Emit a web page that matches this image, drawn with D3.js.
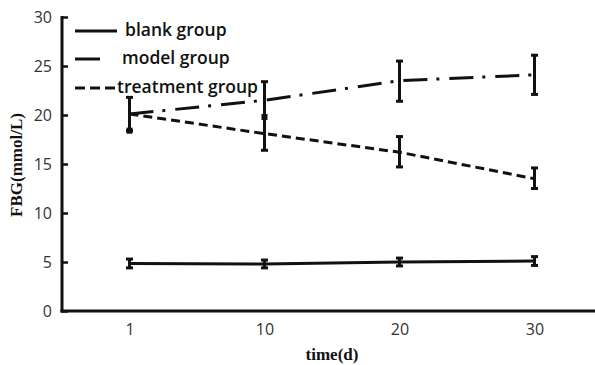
<!DOCTYPE html>
<html>
<head>
<meta charset="utf-8">
<script src="https://cdn.jsdelivr.net/npm/d3@7"></script>
<style>
  body { margin: 0; background: #fff; }
  .tick text { font-family: "Open Sans", sans-serif; font-size: 16px; fill: #333; }
  .title { font-family: "Liberation Serif", serif; font-weight: bold; fill: #111; }
  .legend text { font-family: "Open Sans", sans-serif; font-weight: 600; font-size: 17.5px; fill: #111; }
</style>
</head>
<body>
<svg id="chart" width="595" height="365"></svg>
<script>
// time points (days)
var days = ["1", "10", "20", "30"];

// blank group
var blankMean = [4.85, 4.8, 5.0, 5.1];
var blankErr  = [0.45, 0.4, 0.4, 0.45];

// model group
var modelMean = [20.1, 21.5, 23.5, 24.1];
var modelLow  = [18.4, 16.4, 21.4, 22.1];
var modelHigh = [21.8, 23.4, 25.5, 26.1];
var modelMark = [18.4, 19.8, null, null];   // square markers drawn on the first two bars

// treatment group
var treatMean = [20.1, 18.1, 16.2, 13.5];
var treatLow  = [null, null, 14.7, 12.5];
var treatHigh = [null, null, 17.8, 14.6];

var yTicks = [0, 5, 10, 15, 20, 25, 30];

var svg = d3.select("svg#chart"),
    plotLeft = 62, plotRight = 602, plotTop = 17, plotBottom = 311;

var x = d3.scalePoint().domain(days).range([plotLeft, plotRight]).padding(0.5),
    y = d3.scaleLinear().domain([0, 30]).range([plotBottom, plotTop]);

// axes
var yAxis = svg.append("g")
    .attr("transform", "translate(" + plotLeft + ",0)")
    .call(d3.axisRight(y).tickValues(yTicks).tickSize(6).tickFormat(d3.format("d")));
yAxis.select(".domain").remove();
yAxis.selectAll(".tick line").attr("stroke", "#111").attr("stroke-width", 2.5);
yAxis.selectAll(".tick text").attr("x", -10).attr("text-anchor", "end");

svg.append("line")
    .attr("x1", plotLeft).attr("x2", plotLeft)
    .attr("y1", y(30) - 1).attr("y2", plotBottom + 1.5)
    .attr("stroke", "#111").attr("stroke-width", 3);

var xAxis = svg.append("g")
    .attr("transform", "translate(0," + plotBottom + ")")
    .call(d3.axisBottom(x).tickSize(0).tickPadding(13));
xAxis.select(".domain").remove();

svg.append("line")
    .attr("x1", plotLeft - 1.5).attr("x2", 595)
    .attr("y1", plotBottom).attr("y2", plotBottom)
    .attr("stroke", "#111").attr("stroke-width", 3);

// axis titles
svg.append("text").attr("class", "title")
    .attr("transform", "translate(22,165) rotate(-90)")
    .attr("text-anchor", "middle")
    .style("font-size", "17px")
    .text("FBG(mmol/L)");

svg.append("text").attr("class", "title")
    .attr("x", 332).attr("y", 360)
    .attr("text-anchor", "middle")
    .style("font-size", "17px")
    .text("time(d)");

// series
var line = d3.line()
    .x(function(d, i) { return x(days[i]); })
    .y(function(d) { return y(d); });

var series = [
  { vals: blankMean, dash: null },
  { vals: modelMean, dash: "24,9,3,10" },
  { vals: treatMean, dash: "9,5" }
];

svg.append("g").selectAll("path")
    .data(series)
  .enter().append("path")
    .attr("d", function(s) { return line(s.vals); })
    .attr("fill", "none")
    .attr("stroke", "#111")
    .attr("stroke-width", 3)
    .attr("stroke-dasharray", function(s) { return s.dash; });

// error bars
function errorBars(lows, highs, cap) {
  var g = svg.append("g").attr("stroke", "#111");
  days.forEach(function(d, i) {
    if (lows[i] == null) return;
    var cx = x(d);
    g.append("line").attr("x1", cx).attr("x2", cx)
        .attr("y1", y(lows[i])).attr("y2", y(highs[i])).attr("stroke-width", 3);
    [lows[i], highs[i]].forEach(function(v) {
      g.append("line").attr("x1", cx - cap / 2).attr("x2", cx + cap / 2)
          .attr("y1", y(v)).attr("y2", y(v)).attr("stroke-width", 3);
    });
  });
}

errorBars(blankMean.map(function(v, i) { return v - blankErr[i]; }),
          blankMean.map(function(v, i) { return v + blankErr[i]; }), 7);
errorBars(modelLow, modelHigh, 7);
errorBars(treatLow, treatHigh, 7);

svg.append("g").selectAll("rect")
    .data(modelMark.map(function(v, i) { return { v: v, d: days[i] }; })
      .filter(function(m) { return m.v != null; }))
  .enter().append("rect")
    .attr("x", function(m) { return x(m.d) - 3; })
    .attr("y", function(m) { return y(m.v) - 3; })
    .attr("width", 6).attr("height", 6)
    .attr("fill", "#111");

// legend
var legendItems = [
  { name: "blank group", dash: null, x1: 75, x2: 117, tx: 125 },
  { name: "model group", dash: null, x1: 75, x2: 100, tx: 122 },
  { name: "treatment group", dash: "10,5", x1: 75, x2: 115, tx: 117 }
];

var legend = svg.append("g").attr("class", "legend")
  .selectAll("g")
    .data(legendItems)
  .enter().append("g")
    .attr("transform", function(d, i) { return "translate(0," + [31, 59, 88][i] + ")"; });

legend.append("line")
    .attr("x1", function(d) { return d.x1; })
    .attr("x2", function(d) { return d.x2; })
    .attr("stroke", "#111").attr("stroke-width", 3)
    .attr("stroke-dasharray", function(d) { return d.dash; });

legend.append("text")
    .attr("x", function(d) { return d.tx; })
    .attr("dy", "0.3em")
    .text(function(d) { return d.name; });
</script>
</body>
</html>
